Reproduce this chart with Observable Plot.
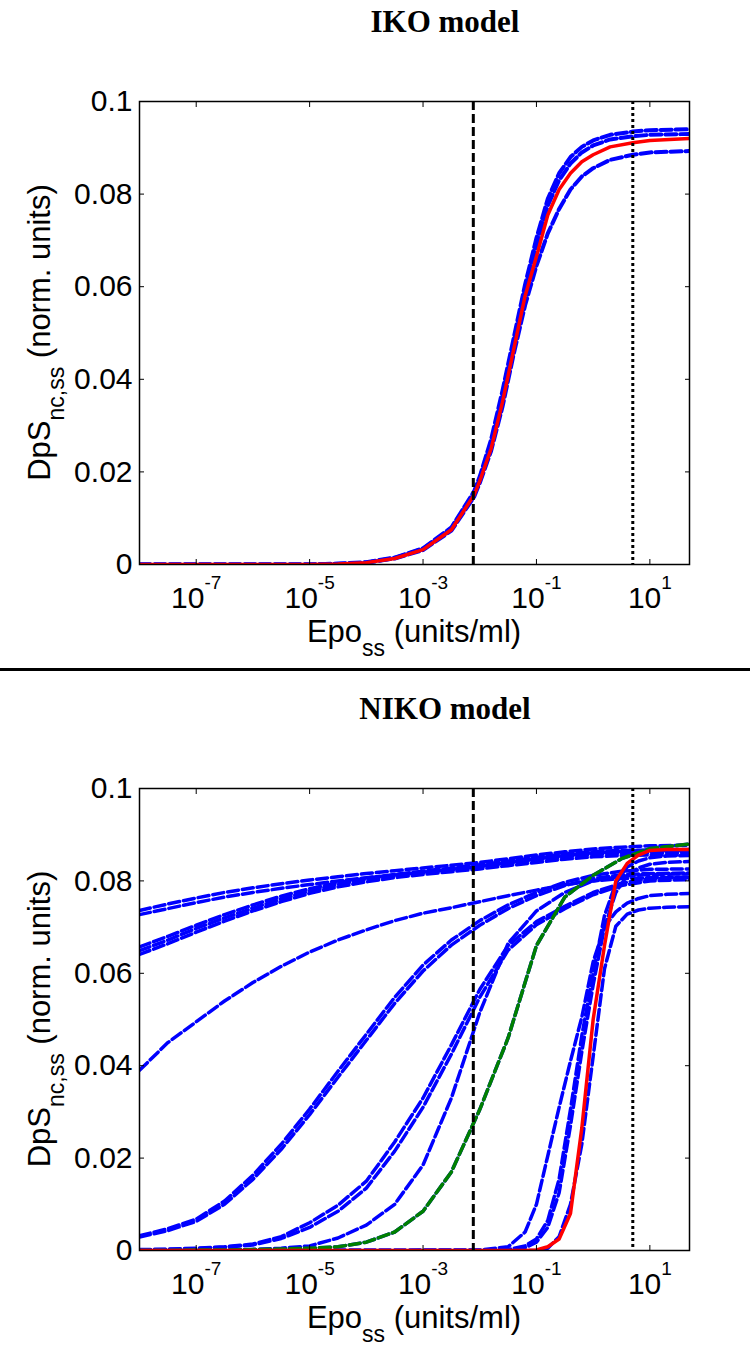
<!DOCTYPE html>
<html>
<head>
<meta charset="utf-8">
<script src="https://cdn.jsdelivr.net/npm/d3@7"></script>
<script src="https://cdn.jsdelivr.net/npm/@observablehq/plot@0.6"></script>
<style>
  html, body { margin: 0; padding: 0; background: #fff; }
  #page { position: relative; width: 750px; height: 1351px; overflow: hidden; background: #fff; }
  .title { position: absolute; left: 0; width: 890px; text-align: center;
           font-family: "Liberation Serif", "Times New Roman", serif; font-weight: bold;
           font-size: 31px; line-height: 31px; color: #000; }
  .panel { position: absolute; left: 0; width: 750px; }
  #divider { position: absolute; left: 0; top: 668px; width: 750px; height: 3px; background: #000; }
</style>
</head>
<body>
<div id="page">
  <div class="title" style="top:6px">IKO model</div>
  <div class="panel" id="iko" style="top:50px"></div>
  <div id="divider"></div>
  <div class="title" style="top:693px">NIKO model</div>
  <div class="panel" id="niko" style="top:740px"></div>
</div>
<script>
// ---- axes ----
const xDomain = [1e-8, 50];
const xTicks = [1e-7, 1e-5, 1e-3, 1e-1, 10];
const yDomain = [0, 0.1];
const yTicks = [0, 0.02, 0.04, 0.06, 0.08, 0.1];
const yTickLabels = ["0", "0.02", "0.04", "0.06", "0.08", "0.1"];

// reference Epo levels (vertical markers)
const dashedMarkerEpo = 0.0077;
const dottedMarkerEpo = 5;

// ---- IKO model: log10(Epo_ss) grid and DpS_nc,ss responses ----
const ikoLogEpo = [-8, -7, -6, -5, -4.5, -4, -3.5, -3, -2.5, -2.1, -2, -1.8, -1.6, -1.4, -1.2, -1, -0.8, -0.6, -0.4, -0.2, 0, 0.3, 0.7, 1, 1.7];
const ikoBlue1 = [0, 0, 0, 0, 0.0002, 0.0005, 0.0015, 0.0035, 0.0080, 0.0158, 0.0190, 0.0270, 0.0375, 0.0490, 0.0605, 0.0705, 0.0790, 0.0845, 0.0880, 0.0902, 0.0916, 0.0928, 0.0935, 0.0938, 0.0940];
const ikoBlue2 = [0, 0, 0, 0, 0.0001, 0.0004, 0.0014, 0.0034, 0.0078, 0.0155, 0.0186, 0.0262, 0.0365, 0.0480, 0.0595, 0.0690, 0.0775, 0.0830, 0.0866, 0.0890, 0.0905, 0.0918, 0.0925, 0.0928, 0.0930];
const ikoBlue3 = [0, 0, 0, 0, 0.0001, 0.0004, 0.0013, 0.0031, 0.0073, 0.0146, 0.0176, 0.0245, 0.0340, 0.0455, 0.0560, 0.0645, 0.0715, 0.0768, 0.0810, 0.0838, 0.0856, 0.0874, 0.0885, 0.0890, 0.0893];
const ikoRed   = [0, 0, 0, 0, 0.0001, 0.0004, 0.0013, 0.0032, 0.0075, 0.0150, 0.0180, 0.0250, 0.0350, 0.0465, 0.0580, 0.0665, 0.0755, 0.0810, 0.0845, 0.0870, 0.0885, 0.0902, 0.0911, 0.0916, 0.0920];

// ---- NIKO model: broad log10(Epo_ss) grid ----
const nikoLogEpo = [-8, -7.5, -7, -6.5, -6, -5.5, -5, -4.5, -4, -3.5, -3, -2.5, -2, -1.5, -1, -0.5, 0, 0.5, 1, 1.7];
const nikoA1 = [0.0736, 0.0750, 0.0763, 0.0775, 0.0785, 0.0794, 0.0802, 0.0809, 0.0816, 0.0822, 0.0828, 0.0834, 0.0840, 0.0848, 0.0856, 0.0863, 0.0869, 0.0873, 0.0876, 0.0877];
const nikoA2 = [0.0727, 0.0740, 0.0753, 0.0765, 0.0775, 0.0784, 0.0792, 0.0800, 0.0807, 0.0813, 0.0819, 0.0825, 0.0832, 0.0840, 0.0848, 0.0855, 0.0861, 0.0864, 0.0866, 0.0866];
const nikoB1 = [0.0657, 0.0680, 0.0704, 0.0727, 0.0748, 0.0767, 0.0783, 0.0796, 0.0806, 0.0814, 0.0821, 0.0828, 0.0835, 0.0843, 0.0851, 0.0858, 0.0863, 0.0866, 0.0867, 0.0868];
const nikoB2 = [0.0649, 0.0672, 0.0697, 0.0720, 0.0741, 0.0761, 0.0778, 0.0792, 0.0803, 0.0811, 0.0818, 0.0824, 0.0830, 0.0837, 0.0845, 0.0852, 0.0857, 0.0860, 0.0861, 0.0861];
const nikoB3 = [0.0641, 0.0664, 0.0689, 0.0713, 0.0735, 0.0755, 0.0773, 0.0787, 0.0798, 0.0807, 0.0814, 0.0820, 0.0826, 0.0833, 0.0840, 0.0847, 0.0852, 0.0855, 0.0856, 0.0856];
const nikoC  = [0.0390, 0.0450, 0.0495, 0.0540, 0.0580, 0.0615, 0.0646, 0.0672, 0.0694, 0.0714, 0.0730, 0.0742, 0.0755, 0.0768, 0.0780, 0.0792, 0.0800, 0.0805, 0.0807, 0.0808];
const nikoD1 = [0.0032, 0.0047, 0.0068, 0.0107, 0.0163, 0.0230, 0.0306, 0.0388, 0.0468, 0.0548, 0.0618, 0.0672, 0.0714, 0.0748, 0.0775, 0.0797, 0.0812, 0.0821, 0.0825, 0.0826];
const nikoD2 = [0.0029, 0.0043, 0.0063, 0.0100, 0.0154, 0.0219, 0.0294, 0.0375, 0.0455, 0.0535, 0.0605, 0.0661, 0.0704, 0.0740, 0.0768, 0.0790, 0.0805, 0.0813, 0.0816, 0.0817];
const nikoE1 = [0.0002, 0.0003, 0.0005, 0.0008, 0.0014, 0.0030, 0.0060, 0.0098, 0.0150, 0.0235, 0.0330, 0.0445, 0.0565, 0.0660, 0.0712, 0.0745, 0.0775, 0.0795, 0.0805, 0.0808];
const nikoE2 = [0.0001, 0.0002, 0.0004, 0.0007, 0.0012, 0.0026, 0.0050, 0.0085, 0.0135, 0.0215, 0.0310, 0.0425, 0.0548, 0.0650, 0.0705, 0.0740, 0.0770, 0.0790, 0.0800, 0.0803];
const nikoF  = [0, 0, 0.0001, 0.0001, 0.0002, 0.0005, 0.0010, 0.0027, 0.0055, 0.0100, 0.0185, 0.0330, 0.0515, 0.0665, 0.0735, 0.0775, 0.0800, 0.0810, 0.0814, 0.0815];
const nikoGreen = [0, 0, 0.0001, 0.0001, 0.0002, 0.0003, 0.0005, 0.0008, 0.0018, 0.0040, 0.0085, 0.0170, 0.0305, 0.0460, 0.0660, 0.0765, 0.0812, 0.0848, 0.0870, 0.0880];

// ---- NIKO model: finer grid around the steep responses ----
const nikoSteepLogEpo = [-8, -2, -1.5, -1.2, -1, -0.8, -0.6, -0.4, -0.2, 0, 0.2, 0.4, 0.6, 0.8, 1, 1.3, 1.7];
const nikoH1 = [0, 0, 0.0002, 0.0010, 0.0025, 0.0065, 0.0155, 0.0305, 0.0465, 0.0600, 0.0725, 0.0795, 0.0830, 0.0843, 0.0850, 0.0854, 0.0855];
const nikoH2 = [0, 0, 0.0001, 0.0006, 0.0018, 0.0050, 0.0125, 0.0270, 0.0430, 0.0575, 0.0700, 0.0775, 0.0812, 0.0828, 0.0836, 0.0840, 0.0842];
const nikoH3 = [0, 0.0001, 0.0008, 0.0040, 0.0100, 0.0205, 0.0310, 0.0410, 0.0505, 0.0625, 0.0700, 0.0733, 0.0752, 0.0762, 0.0768, 0.0771, 0.0773];
const nikoH4 = [0, 0, 0, 0, 0, 0.0005, 0.0030, 0.0100, 0.0230, 0.0420, 0.0610, 0.0702, 0.0728, 0.0737, 0.0741, 0.0743, 0.0744];
const nikoRed = [0, 0, 0, 0, 0.0001, 0.0008, 0.0025, 0.0080, 0.0265, 0.0500, 0.0660, 0.0800, 0.0838, 0.0856, 0.0866, 0.0868, 0.0868];

// ---- styling ----
const BLUE = "#0000ff", RED = "#ff0000", GREEN = "#008000";
const FONT = "'Liberation Sans', Arial, Helvetica, sans-serif";
const SVGNS = "http://www.w3.org/2000/svg";

const rows = (logs, vals) => logs.map((e, i) => ({epo: 10 ** e, v: vals[i]}));

function tspan(text, attrs = {}) {
  const t = document.createElementNS(SVGNS, "tspan");
  for (const [k, v] of Object.entries(attrs)) t.setAttribute(k, v);
  t.textContent = text;
  return t;
}

function drawPanel(container, {height, marginTop, marginBottom, blue, green, red, blueWidth}) {
  const curve = (series, stroke, width, dash) =>
    Plot.line(series, {x: "epo", y: "v", stroke, strokeWidth: width, strokeDasharray: dash,
                       strokeLinejoin: "round", clip: true});

  const marks = [
    ...blue.map(s => curve(s, BLUE, blueWidth, "11,4")),
    ...green.map(s => curve(s, GREEN, 3.5, "11,4")),
    ...red.map(s => curve(s, RED, 3.5, null)),
    Plot.ruleX([dashedMarkerEpo], {stroke: "#000", strokeWidth: 3, strokeDasharray: "9,4"}),
    Plot.ruleX([dottedMarkerEpo], {stroke: "#000", strokeWidth: 3, strokeDasharray: "3,3"}),
    Plot.frame({stroke: "#000", strokeWidth: 1.5}),
    // inward ticks on all four sides
    Plot.axisX(xTicks, {anchor: "bottom", tickSize: 5, dy: -5, fill: "none", stroke: "#000", label: null}),
    Plot.axisX(xTicks, {anchor: "top", tickSize: 5, dy: 5, fill: "none", stroke: "#000", label: null}),
    Plot.axisY(yTicks, {anchor: "left", tickSize: 5, dx: 5, fill: "none", stroke: "#000", label: null}),
    Plot.axisY(yTicks, {anchor: "right", tickSize: 5, dx: -5, fill: "none", stroke: "#000", label: null}),
    // tick labels
    Plot.axisX(xTicks, {anchor: "bottom", tickSize: 0, tickPadding: 22, fill: "#000", label: null,
                        tickFormat: d => String(Math.round(Math.log10(d)))}),
    Plot.axisY(yTicks, {anchor: "left", tickSize: 0, tickPadding: 7, fill: "#000", label: null,
                        tickFormat: d => yTickLabels[yTicks.indexOf(d)]})
  ];

  const svg = Plot.plot({
    width: 750, height,
    marginLeft: 139, marginRight: 61, marginTop, marginBottom,
    x: {type: "log", domain: xDomain},
    y: {domain: yDomain},
    style: {fontFamily: FONT, fontSize: "30px", color: "#000", background: "#fff", overflow: "visible"},
    marks
  });

  // powers of ten with raised exponents
  svg.querySelectorAll('g[aria-label="x-axis tick label"] text').forEach(t => {
    const exp = t.textContent;
    t.textContent = "";
    t.append(tspan("10"), tspan(exp, {dy: "-19", "font-size": "19"}));
  });

  const [x0, x1] = svg.scale("x").range;
  const [yb, yt] = svg.scale("y").range;
  const s = d3.select(svg);

  // x-axis title: Epo_ss (units/ml)
  const xl = s.append("text")
    .attr("x", (x0 + x1) / 2).attr("y", yb + 77.5)
    .attr("text-anchor", "middle").attr("font-size", 31).attr("fill", "#000").node();
  xl.append(tspan("Epo"), tspan("ss", {dy: "14", "font-size": "23"}), tspan(" (units/ml)", {dy: "-14"}));

  // y-axis title: DpS_nc,ss (norm. units)
  const yl = s.append("text")
    .attr("transform", `translate(50,${(yb + yt) / 2}) rotate(-90)`)
    .attr("text-anchor", "middle").attr("font-size", 31).attr("fill", "#000").node();
  yl.append(tspan("DpS"), tspan("nc,ss", {dy: "14", "font-size": "23"}), tspan(" (norm. units)", {dy: "-14"}));

  container.append(svg);
}

drawPanel(document.getElementById("iko"), {
  height: 620, marginTop: 51, marginBottom: 106, blueWidth: 4,
  blue: [rows(ikoLogEpo, ikoBlue3), rows(ikoLogEpo, ikoBlue2), rows(ikoLogEpo, ikoBlue1)],
  green: [],
  red: [rows(ikoLogEpo, ikoRed)]
});

drawPanel(document.getElementById("niko"), {
  height: 611, marginTop: 48, marginBottom: 101, blueWidth: 3.5,
  blue: [
    rows(nikoLogEpo, nikoA1), rows(nikoLogEpo, nikoA2),
    rows(nikoLogEpo, nikoB1), rows(nikoLogEpo, nikoB2), rows(nikoLogEpo, nikoB3),
    rows(nikoLogEpo, nikoC),
    rows(nikoLogEpo, nikoD1), rows(nikoLogEpo, nikoD2),
    rows(nikoLogEpo, nikoE1), rows(nikoLogEpo, nikoE2),
    rows(nikoLogEpo, nikoF), rows(nikoLogEpo, nikoGreen),
    rows(nikoSteepLogEpo, nikoH1), rows(nikoSteepLogEpo, nikoH2),
    rows(nikoSteepLogEpo, nikoH3), rows(nikoSteepLogEpo, nikoH4)
  ],
  green: [rows(nikoLogEpo, nikoGreen)],
  red: [rows(nikoSteepLogEpo, nikoRed)]
});
</script>
</body>
</html>
